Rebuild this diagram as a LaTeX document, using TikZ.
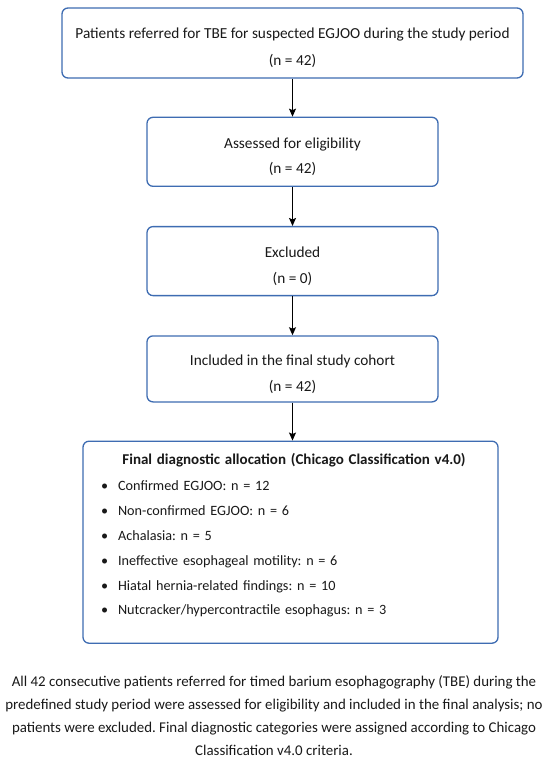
\documentclass[tikz,border=0pt]{standalone}
\usepackage{fontspec}
\setmainfont{Carlito}
\frenchspacing
\usetikzlibrary{positioning,arrows.meta}
\definecolor{boxblue}{RGB}{62,108,178}
\definecolor{ink}{RGB}{25,25,25}
\newcommand{\topstrut}{\rule{0pt}{21pt}}

\begin{document}
\begin{tikzpicture}
[x=1pt,y=-1pt,
 box/.style={draw=boxblue,line width=1.3pt,rounded corners=6pt,fill=white,
   align=center,text=ink,font=\fontsize{15.3}{25.5}\selectfont,inner sep=0pt},
 step box/.style={box,minimum width=291pt,minimum height=69pt},
 arr/.style={draw=black,line width=1pt,-{Stealth[length=8pt,width=7pt,inset=1.5pt]}}]
\useasboundingbox[fill=white] (0,0) rectangle (550,759);
\node[box,minimum width=461pt,minimum height=70pt](ref) at (292.5,43)
  {\topstrut Patients referred for TBE for suspected EGJOO during the study period\\[1.5pt](n = 42)};
\node[step box,below=38pt of ref](elig)
  {\topstrut Assessed for eligibility\\(n = 42)};
\node[step box,below=39pt of elig](excl)
  {\topstrut Excluded\\(n = 0)};
\node[step box,minimum height=66pt,below=39pt of excl](incl)
  {\topstrut Included in the final study cohort\\(n = 42)};
\node[box,minimum width=415pt,minimum height=202pt,text width=379pt,align=left,
  font=\fontsize{14.2}{24.8}\selectfont,below=38pt of incl,xshift=-2pt](alloc)
  {{\centering\hspace*{7pt}\fontsize{15}{24.8}\selectfont
    \textbf{Final diagnostic allocation (Chicago Classification v4.0)}\par}
   \vspace{2pt}
   \textbullet\hspace{10pt}Confirmed EGJOO: n = 12\\
   \textbullet\hspace{10pt}Non-confirmed EGJOO: n = 6\\
   \textbullet\hspace{10pt}Achalasia: n = 5\\
   \textbullet\hspace{10pt}Ineffective esophageal motility: n = 6\\
   \textbullet\hspace{10pt}Hiatal hernia-related findings: n = 10\\
   \textbullet\hspace{10pt}Nutcracker/hypercontractile esophagus: n = 3\par
   \vspace{14pt}};
\node[align=center,text=ink,font=\fontsize{14.9}{23}\selectfont,
  below=28pt of alloc,xshift=-16.5pt](note)
  {All 42 consecutive patients referred for timed barium esophagography (TBE) during the\\
   predefined study period were assessed for eligibility and included in the final analysis; no\\
   patients were excluded. Final diagnostic categories were assigned according to Chicago\\
   Classification v4.0 criteria.};
\path (ref) edge[arr] (elig); \path (elig) edge[arr] (excl);
\path (excl) edge[arr] (incl); \path (incl) edge[arr] (alloc.north-|incl.south);
\end{tikzpicture}
\end{document}
